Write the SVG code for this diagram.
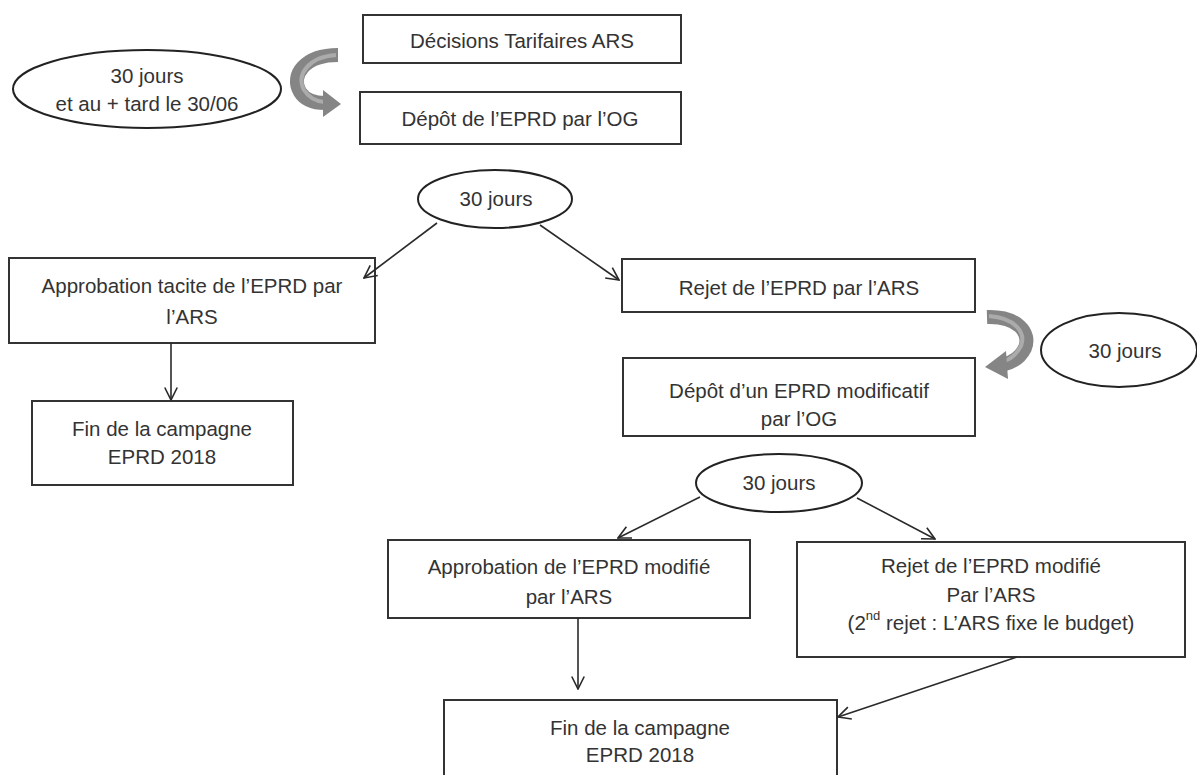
<svg xmlns="http://www.w3.org/2000/svg" width="1197" height="775" viewBox="0 0 1197 775">
<style>
.box{fill:#fff;stroke:#333;stroke-width:2}
.ell{fill:#fff;stroke:#222;stroke-width:2}
.t{font-family:"Liberation Sans",Arial,sans-serif;font-size:20.5px;fill:#333;text-anchor:middle;dominant-baseline:central}
.c{fill:none;stroke:#2a2a2a;stroke-width:1.6;marker-end:url(#ah)}
.band{fill:none;stroke:#858585;stroke-width:14}
.hl{fill:none;stroke:#ababab;stroke-width:4}
.head{fill:#858585}
</style>
<defs>
<marker id="ah" viewBox="0 0 12 12" refX="11" refY="6" markerWidth="15" markerHeight="15" markerUnits="userSpaceOnUse" orient="auto">
<path d="M1,1 L11,6 L1,11" fill="none" stroke="#2a2a2a" stroke-width="1.3"/>
</marker>
</defs>
<rect width="1197" height="775" fill="#fff"/>

<g id="curved-arrow-1">
<path class="band" d="M338,55 C305,55 290,75 300,92 C305,100 314,103 325,103"/>
<path class="hl" d="M336,55 C308,57 296,75 304,90 C309,98 315,101 324,102"/>
<polygon class="head" points="323,90 341,104 323,117"/>
</g>

<g id="curved-arrow-2">
<path class="band" d="M987,317 C1018,316 1031,333 1025,348 C1020,358 1013,362 1005,364"/>
<path class="hl" d="M989,316 C1016,318 1026,333 1021,346 C1016,355 1011,359 1004,361"/>
<polygon class="head" points="1006,351 985,367 1008,379"/>
</g>

<g id="ellipse-a">
<ellipse class="ell" cx="147" cy="89" rx="134" ry="39"/>
<text class="t" x="147" y="75">30 jours</text>
<text class="t" x="147" y="103">et au + tard le 30/06</text>
</g>

<g id="box-decisions">
<rect class="box" x="363" y="15" width="318" height="48"/>
<text class="t" x="522" y="40">Décisions Tarifaires ARS</text>
</g>

<g id="box-depot">
<rect class="box" x="360" y="92" width="321" height="52"/>
<text class="t" x="520" y="118">Dépôt de l’EPRD par l’OG</text>
</g>

<g id="ellipse-b">
<ellipse class="ell" cx="495" cy="199" rx="77" ry="29"/>
<text class="t" x="496" y="198">30 jours</text>
</g>

<g id="box-approbation-tacite">
<rect class="box" x="9" y="258" width="366" height="85"/>
<text class="t" x="192" y="285">Approbation tacite de l’EPRD par</text>
<text class="t" x="192" y="316">l’ARS</text>
</g>

<g id="box-fin-1">
<rect class="box" x="32" y="401" width="261" height="84"/>
<text class="t" x="162" y="428">Fin de la campagne</text>
<text class="t" x="162" y="456">EPRD 2018</text>
</g>

<g id="box-rejet">
<rect class="box" x="622" y="259" width="353" height="53"/>
<text class="t" x="799" y="287">Rejet de l’EPRD par l’ARS</text>
</g>

<g id="ellipse-c">
<ellipse class="ell" cx="1119" cy="350" rx="78" ry="37"/>
<text class="t" x="1125" y="350">30 jours</text>
</g>

<g id="box-depot-modificatif">
<rect class="box" x="623" y="358" width="352" height="78"/>
<text class="t" x="799" y="390">Dépôt d’un EPRD modificatif</text>
<text class="t" x="799" y="418">par l’OG</text>
</g>

<g id="ellipse-d">
<ellipse class="ell" cx="779" cy="483" rx="83" ry="29"/>
<text class="t" x="779" y="482">30 jours</text>
</g>

<g id="box-approbation-modifie">
<rect class="box" x="388" y="540" width="362" height="78"/>
<text class="t" x="569" y="566">Approbation de l’EPRD modifié</text>
<text class="t" x="569" y="596">par l’ARS</text>
</g>

<g id="box-rejet-modifie">
<rect class="box" x="797" y="542" width="388" height="115"/>
<text class="t" x="991" y="565">Rejet de l’EPRD modifié</text>
<text class="t" x="991" y="594">Par l’ARS</text>
<text class="t" x="991" y="622">(2<tspan font-size="13" dy="-7">nd</tspan><tspan dy="7"> rejet : L’ARS fixe le budget)</tspan></text>
</g>

<g id="box-fin-2">
<rect class="box" x="444" y="700" width="393" height="90"/>
<text class="t" x="640" y="727">Fin de la campagne</text>
<text class="t" x="640" y="754">EPRD 2018</text>
</g>

<g id="connectors">
<line class="c" x1="437" y1="223" x2="364" y2="278"/>
<line class="c" x1="540" y1="225" x2="619" y2="280"/>
<line class="c" x1="171" y1="343" x2="171" y2="400"/>
<line class="c" x1="700" y1="497" x2="618" y2="538"/>
<line class="c" x1="857" y1="498" x2="935" y2="539"/>
<line class="c" x1="578" y1="618" x2="578" y2="689"/>
<line class="c" x1="1017" y1="657" x2="838" y2="717"/>
</g>
</svg>
